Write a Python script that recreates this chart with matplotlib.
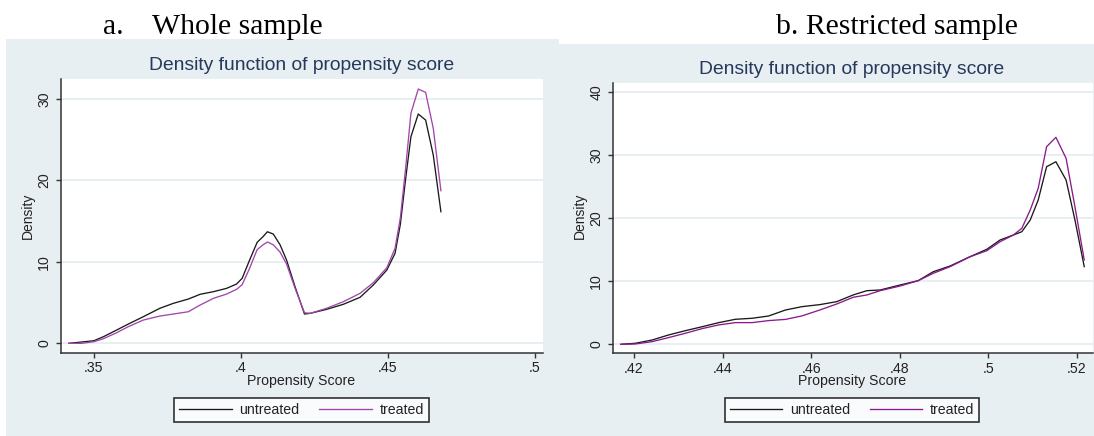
import numpy as np
import matplotlib.pyplot as plt
from matplotlib.patches import Rectangle

W, H = 1094, 436

# a. whole sample
score_a = [0.3415, 0.3458, 0.35, 0.3532, 0.3577, 0.3617, 0.3668, 0.3724, 0.377, 0.3821,
           0.3861, 0.3906, 0.3951, 0.3985, 0.4004, 0.4028, 0.4055, 0.4075, 0.409, 0.411,
           0.4133, 0.4155, 0.4184, 0.4216, 0.4235, 0.4291, 0.4348, 0.4405, 0.445, 0.4496,
           0.4524, 0.4542, 0.456, 0.4578, 0.4603, 0.4628, 0.4654, 0.468]
untreated_a = [0, 0.16, 0.32, 0.81, 1.63, 2.37, 3.27, 4.3, 4.91, 5.44,
               6.02, 6.34, 6.75, 7.28, 7.98, 10.1, 12.4, 13.1, 13.7, 13.42,
               12.1, 10.23, 6.95, 3.6, 3.68, 4.17, 4.79, 5.65, 7.16, 9.0,
               11.05, 14.6, 20.2, 25.37, 28.16, 27.42, 23.12, 16.16]
treated_a = [0, 0.0, 0.2, 0.57, 1.3, 2.05, 2.86, 3.35, 3.6, 3.88,
             4.7, 5.52, 6.05, 6.63, 7.2, 9.1, 11.5, 12.1, 12.44, 12.1,
             11.2, 9.74, 6.75, 3.76, 3.68, 4.3, 5.11, 6.14, 7.44, 9.28,
             11.67, 15.4, 21.5, 28.25, 31.23, 30.82, 26.4, 18.74]

# b. restricted sample
score_b = [0.41706, 0.4203, 0.4241, 0.4278, 0.4316, 0.4354, 0.4391, 0.4429, 0.4467, 0.4504,
           0.4542, 0.4579, 0.462, 0.4658, 0.4695, 0.4726, 0.4756, 0.4801, 0.4842, 0.4876,
           0.4914, 0.4959, 0.4997, 0.5027, 0.5057, 0.5076, 0.5095, 0.5113, 0.5132, 0.5153,
           0.5176, 0.5196, 0.5217]
untreated_b = [0, 0.16, 0.68, 1.48, 2.16, 2.79, 3.43, 3.97, 4.13, 4.49,
               5.44, 5.97, 6.3, 6.77, 7.83, 8.51, 8.62, 9.41, 10.1, 11.52,
               12.43, 13.9, 15.08, 16.56, 17.35, 17.87, 19.73, 22.9, 28.19, 28.98,
               26.08, 19.73, 12.32]
treated_b = [0, 0.05, 0.42, 1.06, 1.75, 2.49, 3.07, 3.44, 3.44, 3.76,
             3.95, 4.5, 5.45, 6.4, 7.46, 7.83, 8.51, 9.25, 10.1, 11.27,
             12.32, 13.9, 14.86, 16.29, 17.35, 18.41, 21.32, 24.76, 31.37, 32.86,
             29.52, 21.84, 13.38]

xticks_a = [0.35, 0.4, 0.45, 0.5]
xlabels_a = ['.35', '.4', '.45', '.5']
yticks_a = [0, 10, 20, 30]
xticks_b = [0.42, 0.44, 0.46, 0.48, 0.5, 0.52]
xlabels_b = ['.42', '.44', '.46', '.48', '.5', '.52']
yticks_b = [0, 10, 20, 30, 40]

bg = '#e8eff2'
grid_c = '#e6eef1'
title_c = '#25395a'
axis_c = '#333333'
black_c = '#1a1a1a'

plt.rcParams['font.family'] = ['Liberation Sans', 'DejaVu Sans']

fig = plt.figure(figsize=(W / 100, H / 100), dpi=100)
fig.patch.set_facecolor('white')


def fx(px):
    return px / W


def fy(py):
    return 1 - py / H


# panel backgrounds (behind the axes)
fig.patches.append(Rectangle((fx(6), 0), fx(559 - 6), fy(39), transform=fig.transFigure,
                             facecolor=bg, edgecolor='none', zorder=-2))
fig.patches.append(Rectangle((fx(552), 0), fx(W - 552), fy(44), transform=fig.transFigure,
                             facecolor=bg, edgecolor='none', zorder=-2))

# headings
serif = ['Liberation Serif', 'DejaVu Serif']
fig.text(fx(103), fy(34), 'a.', family=serif, fontsize=21.4, va='baseline', ha='left')
fig.text(fx(152), fy(34), 'Whole sample', family=serif, fontsize=21.4, va='baseline', ha='left')
fig.text(fx(776), fy(34), 'b. Restricted sample', family=serif, fontsize=21.4,
         va='baseline', ha='left')


def panel(box, xs, un, tr, xlim, ylim, xt, xl, yt, treated_c, centre, title_y, dens_x):
    left, top, right, bottom = box
    ax = fig.add_axes([fx(left), fy(bottom), fx(right - left), (bottom - top) / H])
    ax.set_facecolor('white')
    ax.plot(xs, un, color=black_c, lw=0.95, label='untreated', zorder=3)
    ax.plot(xs, tr, color=treated_c, lw=0.95, label='treated', zorder=3)
    ax.set_xlim(*xlim)
    ax.set_ylim(*ylim)
    ax.set_xticks(xt)
    ax.set_xticklabels(xl)
    ax.set_yticks(yt)
    ax.set_yticklabels([str(v) for v in yt], rotation=90, va='center')
    for v in yt:
        ax.axhline(v, color=grid_c, lw=1.3, zorder=1)
    for s in ['top', 'right']:
        ax.spines[s].set_visible(False)
    for s in ['left', 'bottom']:
        ax.spines[s].set_color(axis_c)
        ax.spines[s].set_linewidth(1.1)
    ax.tick_params(axis='both', colors=axis_c, length=3.6, width=1.0, labelsize=10.2,
                   labelcolor='#222222')
    ax.tick_params(axis='x', pad=2.5)
    ax.tick_params(axis='y', pad=3.5)

    fig.text(fx(centre), fy(title_y), 'Density function of propensity score', color=title_c,
             fontsize=13.9, ha='center', va='center')
    fig.text(fx(centre), fy(381), 'Propensity Score', color='#222222', fontsize=10.2,
             ha='center', va='center')
    fig.text(fx(dens_x), fy(216), 'Density', color='#222222', fontsize=10.0,
             ha='center', va='center', rotation=90)
    leg = ax.legend(loc='center', ncol=2, bbox_to_anchor=(fx(centre), fy(409.7)),
                    bbox_transform=fig.transFigure, fontsize=10.2, frameon=True,
                    fancybox=False, borderpad=0.35, handlelength=3.7, handletextpad=0.55,
                    columnspacing=1.4)
    leg.get_frame().set_edgecolor('black')
    leg.get_frame().set_linewidth(1.2)
    for t in leg.get_texts():
        t.set_color('#222222')
    return ax


panel((61, 79, 543.3, 352.7), score_a, untreated_a, treated_a, (0.3388, 0.50282),
      (-1.15, 32.46), xticks_a, xlabels_a, yticks_a, '#a346ab', 301.5, 65, 28)
panel((613, 83.3, 1092.7, 353.3), score_b, untreated_b, treated_b, (0.41526, 0.52361),
      (-1.43, 41.43), xticks_b, xlabels_b, yticks_b, '#8a1a8e', 852, 70, 580)

fig.savefig('out.png', dpi=100, facecolor=fig.get_facecolor())
